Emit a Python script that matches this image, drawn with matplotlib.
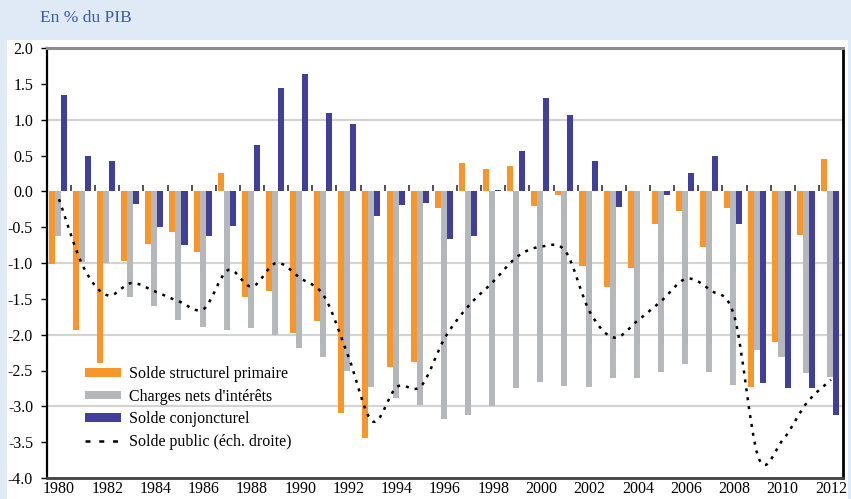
import numpy as np
import matplotlib
matplotlib.use("Agg")
import matplotlib.pyplot as plt
from matplotlib.patches import Patch, Rectangle, PathPatch
from matplotlib.lines import Line2D
from matplotlib.path import Path

plt.rcParams["font.family"] = ["Liberation Serif", "DejaVu Serif"]
plt.rcParams["axes.unicode_minus"] = False

years = list(range(1980, 2013))

solde_structurel_primaire = [
    -1.02, -1.94, -2.39, -0.97, -0.74, -0.57, -0.84, 0.26, -1.48, -1.39,
    -1.97, -1.81, -3.09, -3.44, -2.45, -2.38, -0.23, 0.40, 0.31, 0.35,
    -0.21, -0.05, -1.04, -1.33, -1.07, -0.45, -0.27, -0.77, -0.23, -2.73,
    -2.10, -0.61, 0.45,
]
charges_nets_interets = [
    -0.63, -0.98, -1.00, -1.47, -1.60, -1.79, -1.89, -1.93, -1.90, -2.00,
    -2.18, -2.31, -2.50, -2.73, -2.88, -2.98, -3.17, -3.12, -2.99, -2.75,
    -2.66, -2.71, -2.73, -2.60, -2.60, -2.52, -2.41, -2.52, -2.70, -2.22,
    -2.31, -2.53, -2.59,
]
solde_conjoncturel = [
    1.35, 0.50, 0.42, -0.17, -0.50, -0.75, -0.62, -0.48, 0.65, 1.44,
    1.64, 1.09, 0.94, -0.35, -0.19, -0.16, -0.67, -0.63, 0.02, 0.56,
    1.30, 1.07, 0.42, -0.22, 0.01, -0.05, 0.26, 0.50, -0.45, -2.67,
    -2.74, -2.74, -3.12,
]
solde_public = [
    -0.11, -1.05, -1.45, -1.28, -1.40, -1.54, -1.64, -1.10, -1.33, -1.00,
    -1.21, -1.47, -2.31, -3.21, -2.73, -2.72, -2.04, -1.59, -1.26, -0.91,
    -0.77, -0.84, -1.68, -2.04, -1.80, -1.52, -1.22, -1.38, -1.75, -3.72,
    -3.47, -2.95, -2.63,
]

labels = ["Solde structurel primaire", "Charges nets d'intérêts",
          "Solde conjoncturel", "Solde public (éch. droite)"]

c_orange = "#f7962b"
c_gray = "#b6b7bb"
c_blue = "#40409a"
c_title = "#3a5ba7"
c_back = "#dfeaf6"

W, H = 851, 499
fig = plt.figure(figsize=(W / 100, H / 100), dpi=100)
fig.patch.set_facecolor(c_back)
fig.patches.append(Rectangle((7 / W, 0), (848 - 7) / W, (H - 40) / H,
                             transform=fig.transFigure, facecolor="white",
                             edgecolor="none", zorder=-5))

fig.text(40 / W, 1 - 18 / H, "En % du PIB", color=c_title, fontsize=12.5,
         ha="left", va="center")

ax = fig.add_axes([47 / W, (H - 478) / H, (843 - 47) / W, (478 - 48) / H])
ax.set_zorder(2)
ax.set_facecolor("white")

x = np.arange(len(years))
bw = 0.25
ax.bar(x - 0.30, solde_structurel_primaire, bw, color=c_orange, zorder=3)
ax.bar(x - 0.05, charges_nets_interets, bw, color=c_gray, zorder=3)
ax.bar(x + 0.20, solde_conjoncturel, bw, color=c_blue, zorder=3)

# Smoothed dotted line (Catmull-Rom segments as cubic Beziers)
pts = np.column_stack([x, solde_public]).astype(float)
ext = np.vstack([pts[0], pts, pts[-1]])
verts = [tuple(pts[0])]
codes = [Path.MOVETO]
for i in range(len(pts) - 1):
    p0, p1, p2, p3 = ext[i], ext[i + 1], ext[i + 2], ext[i + 3]
    c1 = p1 + (p2 - p0) / 6.0
    c2 = p2 - (p3 - p1) / 6.0
    verts += [tuple(c1), tuple(c2), tuple(p2)]
    codes += [Path.CURVE4] * 3
dot_style = (0, (1.2, 2.4))
ax.add_patch(PathPatch(Path(verts, codes), fill=False, edgecolor="black",
                       linewidth=1.8, linestyle=dot_style, zorder=4))

ax.set_xlim(-0.5, len(years) - 0.5)
ax.set_ylim(-4.0, 2.0)

yt = np.arange(-4.0, 2.01, 0.5)
ax.set_yticks(yt)
ax.set_yticklabels([f"{v:.1f}" for v in yt], fontsize=11.5)
ax.tick_params(axis="y", direction="out", length=4, width=1, color="black",
               pad=6)
for v in [-3, -2, -1, 1]:
    ax.axhline(v, color="#d3d3d3", linewidth=1.6, zorder=1)

ax.set_xticks(x[::2])
ax.set_xticklabels([str(y) for y in years[::2]], fontsize=11.5)
ax.tick_params(axis="x", length=0, pad=2)

# Category axis crossing at zero with ticks between years
sec = ax.secondary_xaxis(2.0 / 3.0)
sec.set_xticks(x[:-1] + 0.5)
sec.set_xticklabels([])
sec.tick_params(direction="out", length=4, width=1.2, color="#333333")
sec.spines["bottom"].set_color("#6f6f6f")
sec.spines["bottom"].set_linewidth(2)
for s in ["top", "left", "right"]:
    sec.spines[s].set_visible(False)

ax.spines["left"].set_color("black")
ax.spines["left"].set_linewidth(1.6)
ax.spines["bottom"].set_color("#404040")
ax.spines["bottom"].set_linewidth(2)
ax.spines["top"].set_color("#8c8c8c")
ax.spines["top"].set_linewidth(2.2)
ax.spines["right"].set_color("black")
ax.spines["right"].set_linewidth(2)

handles = [
    Patch(facecolor=c_orange, edgecolor="none"),
    Patch(facecolor=c_gray, edgecolor="none"),
    Patch(facecolor=c_blue, edgecolor="none"),
    Line2D([], [], color="black", linewidth=1.8, linestyle=(0, (2, 3.5))),
]
leg = ax.legend(handles, labels, loc="upper left",
                bbox_to_anchor=(0.03, 0.293), frameon=False, fontsize=11.5,
                handlelength=2.25, handleheight=0.45, handletextpad=0.5,
                labelspacing=0.4)
leg.set_zorder(5)

fig.savefig("out.png", dpi=100, facecolor=fig.get_facecolor())
